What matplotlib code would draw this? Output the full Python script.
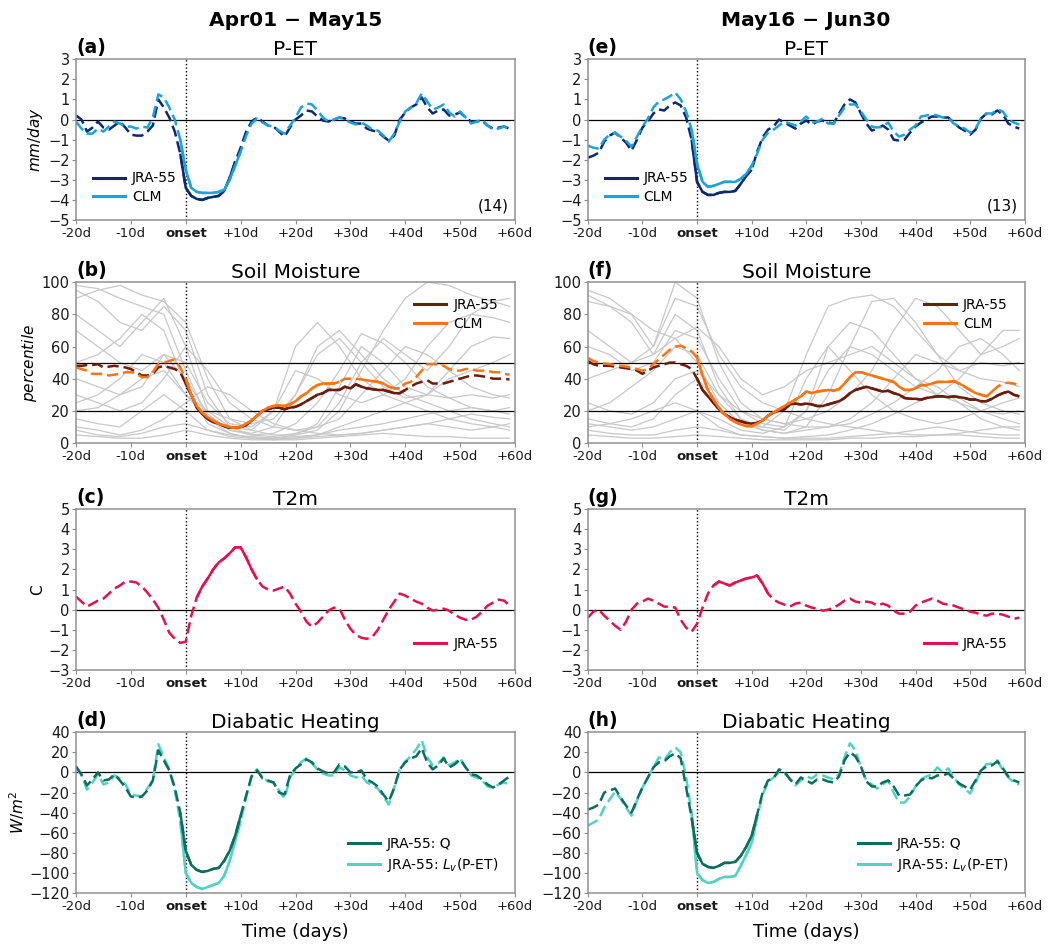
import matplotlib
matplotlib.use("Agg")
import matplotlib.pyplot as plt
from matplotlib.lines import Line2D

# ---------------- data ----------------
days = list(range(-20, 60))
xtick_pos = [-20, -10, 0, 10, 20, 30, 40, 50, 60]
xtick_lab = ["-20d", "-10d", "onset", "+10d", "+20d", "+30d", "+40d", "+50d", "+60d"]

# P-ET (mm/day), Apr01-May15
pet_jra_a = [0.2, 0.0, -0.6, -0.4, -0.1, -0.4, -0.5, -0.3, -0.1, -0.4,
             -0.75, -0.8, -0.8, -0.6, -0.3, 1.0, 0.6, 0.1, -0.6, -1.7,
             -3.4, -3.8, -3.95, -4.0, -3.9, -3.85, -3.8, -3.55, -2.9, -2.1,
             -1.4, -0.6, -0.1, 0.1, -0.1, -0.3, -0.35, -0.6, -0.85, -0.4,
             0.0, 0.2, 0.45, 0.4, 0.15, -0.05, -0.1, 0.0, 0.1, 0.05,
             -0.1, -0.2, -0.2, -0.45, -0.55, -0.6, -0.85, -1.05, -0.8, 0.0,
             0.35, 0.6, 0.75, 1.1, 0.6, 0.3, 0.45, 0.5, 0.2, 0.25,
             0.35, 0.1, -0.1, -0.1, -0.05, -0.3, -0.45, -0.4, -0.35, -0.45]
pet_clm_a = [-0.1, -0.45, -0.7, -0.7, -0.45, -0.6, -0.35, -0.1, -0.2, -0.35,
             -0.35, -0.45, -0.35, -0.4, 0.1, 1.25, 1.1, 0.6, 0.0, -1.0,
             -2.5, -3.4, -3.6, -3.65, -3.65, -3.65, -3.6, -3.5, -3.0, -2.3,
             -1.6, -0.8, -0.2, 0.05, -0.15, -0.3, -0.35, -0.55, -0.7, -0.3,
             0.1, 0.6, 0.8, 0.75, 0.45, 0.1, -0.1, 0.0, 0.1, 0.0,
             -0.15, -0.25, -0.15, -0.3, -0.5, -0.55, -0.8, -1.1, -0.7, -0.1,
             0.4, 0.6, 0.8, 1.3, 0.9, 0.5, 0.6, 0.75, 0.35, 0.15,
             0.4, 0.1, -0.2, -0.1, 0.0, -0.3, -0.5, -0.45, -0.35, -0.45]
# P-ET (mm/day), May16-Jun30
pet_jra_e = [-1.9, -1.8, -1.65, -1.1, -0.8, -0.65, -0.9, -1.15, -1.55, -1.0,
             -0.4, -0.1, 0.3, 0.5, 0.45, 0.7, 0.85, 0.7, 0.1, -1.0,
             -3.1, -3.6, -3.75, -3.75, -3.65, -3.6, -3.6, -3.55, -3.2, -2.8,
             -2.5, -1.6, -0.9, -0.5, -0.35, 0.0, -0.15, -0.3, -0.45, -0.2,
             -0.05, -0.25, -0.1, -0.05, -0.15, -0.2, 0.3, 0.75, 1.0, 0.85,
             0.3, -0.2, -0.55, -0.45, -0.3, -0.5, -1.0, -1.05, -1.0, -0.65,
             -0.35, -0.15, 0.0, 0.15, 0.15, 0.1, 0.1, -0.15, -0.4, -0.55,
             -0.75, -0.5, 0.05, 0.3, 0.25, 0.45, 0.25, -0.2, -0.35, -0.45]
pet_clm_e = [-1.3, -1.4, -1.45, -1.0, -0.75, -0.65, -0.85, -1.05, -1.35, -0.85,
             -0.35, 0.05, 0.6, 0.9, 1.0, 1.15, 1.35, 1.0, 0.4, -0.5,
             -2.2, -3.1, -3.35, -3.3, -3.2, -3.1, -3.1, -3.1, -2.95, -2.7,
             -2.3, -1.7, -1.0, -0.65, -0.5, -0.3, -0.1, -0.2, -0.3, -0.1,
             0.15, -0.15, -0.1, 0.05, -0.2, -0.2, 0.2, 0.6, 0.75, 0.75,
             0.4, 0.0, -0.35, -0.4, -0.35, -0.15, -0.6, -0.85, -0.75, -0.5,
             -0.3, 0.15, 0.2, 0.25, 0.2, 0.1, 0.1, -0.2, -0.35, -0.45,
             -0.65, -0.45, 0.05, 0.3, 0.3, 0.5, 0.4, 0.0, -0.15, -0.25]

# Soil moisture (percentile)
sm_jra_b = [48, 48, 48.5, 48.5, 49, 47, 47.5, 48, 47.5, 47,
            46, 44, 42, 42, 43, 47, 48, 47, 46, 44,
            37, 30, 22, 18, 15, 13, 12, 10.5, 9.5, 9.5,
            10, 11, 14, 17, 20, 21, 22, 22, 21, 22,
            22.5, 24, 26, 28, 30, 31, 33, 33, 33, 35,
            34, 36.5, 35, 34, 33.5, 33, 33, 32, 31, 31,
            33, 35, 37, 38, 39, 37, 37, 37, 38, 39,
            40, 41, 42, 42, 41.5, 41, 40, 40, 40, 39.5]
sm_clm_b = [47, 46, 45, 43, 43, 43, 42, 42.5, 43, 44,
            44, 43, 41, 41, 44, 49, 50, 51, 52, 47,
            40, 30, 23, 19, 16, 14, 12, 11, 10, 9.5,
            10, 12, 14, 17, 20, 22, 23, 23.5, 23, 24,
            26, 29, 31, 34, 36, 37, 37, 37, 38, 40,
            40, 40, 39.5, 39, 38.5, 38, 37, 35, 34, 34,
            37, 38, 41, 45, 49, 49, 49, 48, 46, 45,
            45, 46, 46, 45, 45, 45, 44, 44, 43, 42.5]
sm_jra_f = [51, 49, 48, 48, 48, 47.5, 47, 46.5, 46, 45,
            43, 45, 47, 48, 49, 50, 50, 49, 48, 46,
            40, 33, 29, 25, 21, 18, 16, 14.5, 13.5, 12.5,
            12, 12.5, 14, 17, 19, 20, 21, 24, 24.5, 24,
            24.5, 24, 23, 23, 24, 25, 26, 28, 31, 33,
            34, 35, 34, 33, 32, 32.5, 31, 30, 28, 27.5,
            27.5, 27, 28, 28.5, 29, 29, 28.5, 29, 28.5, 28,
            27, 27, 26, 26, 27.5, 29.5, 31, 32, 30, 29]
sm_clm_f = [53, 51, 50, 49.5, 49, 48.5, 48, 47.5, 47, 46,
            45, 46, 49, 52, 55, 58, 60, 60.5, 59, 57,
            53, 42, 33, 27, 22, 18, 15, 13, 11.5, 10.5,
            10.5, 12, 14, 17, 19, 21, 23, 25, 27, 29,
            32, 31, 32, 32.5, 33, 32.5, 33.5, 37, 41, 44,
            44, 43, 42, 41, 40, 39, 38, 35, 33, 33,
            34, 36, 36, 37, 38, 38, 38, 38.5, 37, 35,
            33, 31, 30, 29, 32, 35, 37, 37.5, 37, 36]

# individual events (soil moisture percentile), sampled every 4 days
member_days = [-20, -16, -12, -8, -4, 0, 4, 8, 12, 16, 20, 24, 28, 32, 36, 40, 44, 48, 52, 56, 59]
sm_members_b = [
    [98, 96, 90, 85, 80, 45, 15, 8, 6, 10, 30, 60, 70, 55, 40, 30, 25, 20, 15, 12, 10],
    [95, 88, 75, 70, 85, 70, 30, 10, 5, 6, 12, 25, 45, 68, 62, 50, 35, 28, 22, 20, 18],
    [90, 95, 98, 92, 88, 75, 40, 15, 8, 5, 5, 8, 20, 45, 70, 90, 100, 98, 92, 88, 85],
    [80, 70, 60, 75, 90, 60, 20, 10, 8, 20, 60, 75, 60, 40, 30, 25, 20, 15, 12, 10, 8],
    [70, 60, 50, 45, 55, 40, 18, 8, 5, 4, 6, 10, 25, 50, 65, 55, 45, 60, 80, 88, 90],
    [50, 55, 65, 80, 70, 35, 12, 6, 3, 3, 5, 12, 35, 60, 50, 35, 30, 28, 30, 28, 30],
    [40, 35, 30, 35, 55, 50, 25, 12, 10, 20, 45, 40, 30, 25, 30, 40, 60, 75, 80, 78, 75],
    [30, 25, 20, 25, 40, 60, 45, 25, 15, 10, 8, 10, 15, 30, 45, 60, 55, 45, 35, 30, 28],
    [20, 22, 30, 40, 45, 30, 15, 6, 3, 2, 3, 5, 10, 15, 20, 25, 30, 45, 60, 66, 65],
    [15, 12, 10, 20, 30, 20, 8, 4, 3, 3, 4, 5, 8, 10, 12, 15, 18, 20, 22, 20, 22],
    [10, 8, 5, 8, 15, 25, 35, 30, 20, 12, 8, 6, 5, 6, 8, 10, 12, 15, 18, 16, 15],
    [8, 5, 4, 6, 10, 12, 8, 5, 4, 3, 3, 4, 5, 6, 8, 10, 12, 10, 8, 10, 12],
    [5, 4, 3, 3, 5, 8, 5, 3, 2, 2, 2, 3, 4, 5, 6, 5, 4, 4, 3, 3, 3],
    [25, 30, 40, 55, 50, 30, 20, 15, 12, 15, 30, 55, 65, 50, 35, 28, 30, 40, 45, 50, 55],
]
sm_members_f = [
    [95, 90, 80, 70, 65, 50, 25, 12, 10, 20, 55, 85, 90, 92, 85, 70, 55, 45, 40, 38, 35],
    [92, 85, 80, 60, 90, 85, 55, 35, 25, 20, 15, 12, 10, 8, 6, 5, 5, 6, 8, 10, 10],
    [88, 85, 75, 55, 80, 70, 35, 15, 8, 6, 10, 30, 60, 88, 90, 75, 55, 35, 25, 20, 18],
    [70, 60, 50, 60, 100, 90, 50, 25, 15, 12, 15, 20, 30, 45, 70, 90, 85, 70, 55, 60, 65],
    [60, 55, 45, 50, 70, 65, 40, 20, 12, 10, 20, 45, 60, 55, 45, 35, 30, 40, 55, 70, 70],
    [20, 25, 35, 45, 60, 55, 30, 15, 10, 8, 20, 60, 75, 70, 55, 40, 30, 25, 20, 18, 20],
    [15, 12, 10, 15, 30, 40, 25, 12, 8, 6, 8, 10, 15, 25, 40, 55, 50, 45, 50, 48, 50],
    [12, 10, 8, 10, 15, 20, 15, 8, 6, 10, 40, 60, 45, 30, 20, 15, 12, 15, 20, 25, 28],
    [10, 12, 15, 20, 25, 20, 10, 5, 4, 3, 4, 5, 8, 12, 18, 25, 30, 28, 20, 15, 12],
    [8, 6, 5, 5, 8, 10, 8, 5, 4, 3, 3, 3, 4, 5, 6, 8, 10, 8, 6, 5, 5],
    [5, 4, 3, 3, 4, 5, 4, 3, 2, 2, 2, 2, 3, 3, 4, 4, 5, 5, 4, 3, 3],
    [40, 45, 50, 55, 65, 72, 60, 40, 30, 35, 45, 50, 55, 60, 50, 40, 35, 25, 15, 10, 8],
    [25, 20, 18, 25, 40, 45, 30, 20, 15, 12, 10, 10, 12, 18, 25, 35, 45, 60, 65, 55, 45],
]

# T2m anomaly (C)
t2m_c = [0.65, 0.4, 0.15, 0.3, 0.45, 0.55, 0.8, 1.05, 1.2, 1.4,
         1.4, 1.35, 1.15, 0.85, 0.5, 0.1, -0.5, -1.15, -1.45, -1.65,
         -1.6, -0.3, 0.6, 1.15, 1.55, 2.0, 2.35, 2.55, 2.8, 3.1,
         3.1, 2.6, 2.0, 1.5, 1.15, 1.0, 0.95, 1.05, 1.15, 0.8,
         0.3, -0.1, -0.6, -0.85, -0.65, -0.35, -0.05, 0.1, 0.05, -0.5,
         -0.95, -1.25, -1.4, -1.45, -1.35, -1.0, -0.5, 0.0, 0.4, 0.8,
         0.7, 0.55, 0.4, 0.3, 0.1, -0.05, 0.0, 0.05, -0.05, -0.25,
         -0.4, -0.5, -0.5, -0.35, -0.1, 0.2, 0.35, 0.5, 0.45, 0.2]
t2m_g = [-0.4, -0.1, 0.0, -0.3, -0.55, -0.8, -1.0, -0.6, 0.0, 0.3,
         0.4, 0.55, 0.45, 0.3, 0.15, 0.15, 0.1, -0.5, -0.9, -1.1,
         -0.7, 0.1, 0.8, 1.2, 1.4, 1.3, 1.2, 1.35, 1.45, 1.55,
         1.6, 1.7, 1.3, 0.8, 0.5, 0.35, 0.25, 0.15, 0.3, 0.35,
         0.2, 0.1, 0.05, -0.05, 0.0, 0.1, 0.25, 0.45, 0.55, 0.4,
         0.35, 0.4, 0.35, 0.2, 0.3, 0.2, -0.05, -0.2, -0.2, -0.1,
         0.2, 0.35, 0.45, 0.55, 0.45, 0.3, 0.25, 0.2, 0.1, 0.0,
         -0.1, -0.15, -0.25, -0.3, -0.2, -0.2, -0.25, -0.35, -0.45, -0.4]

# Diabatic heating (W/m2)
q_d = [6, -2, -13, -7, 0, -8, -7, -2, -8, -15,
       -24, -25, -24, -18, -8, 22, 12, 2, -15, -40,
       -78, -92, -97, -99, -98, -96, -95, -88, -78, -63,
       -43, -23, -4, 2, -6, -8, -10, -20, -22, -3,
       4, 8, 13, 10, 4, 1, -1, 0, 8, 6,
       0, 0, 2, -7, -10, -14, -22, -29, -15, 3,
       10, 14, 16, 24, 10, 3, 7, 14, 5, 8,
       13, 5, -2, -3, -7, -12, -15, -12, -8, -4]
lv_d = [5, -3, -17, -10, -2, -12, -10, -3, -6, -12,
        -22, -23, -24, -16, -8, 28, 15, 3, -18, -48,
        -100, -110, -114, -116, -114, -112, -110, -103, -88, -68,
        -48, -25, -3, 3, -5, -9, -10, -18, -26, -5,
        3, 10, 14, 9, 3, -1, -3, -3, 5, 2,
        -3, -5, -3, -10, -13, -16, -24, -32, -15, 3,
        11, 16, 23, 32, 15, 7, 9, 15, 7, 10,
        14, 5, -3, -5, -8, -14, -15, -12, -10, -12]
q_h = [-37, -35, -32, -20, -18, -16, -25, -33, -40, -27,
       -15, -5, 5, 10, 11, 16, 19, 14, -15, -45,
       -80, -91, -94, -95, -93, -90, -90, -89, -83, -74,
       -63, -42, -20, -8, -6, 3, 1, -7, -12, -5,
       -8, -11, -7, -7, -9, -10, -4, 12, 20, 16,
       6, -9, -14, -14, -10, -8, -14, -23, -23, -22,
       -14, -8, -5, -6, -3, -3, -1, -6, -11, -14,
       -17, -8, 2, 6, 7, 11, 4, -4, -8, -10]
lv_h = [-53, -50, -47, -35, -27, -19, -26, -35, -43, -28,
        -15, -5, 5, 15, 12, 20, 25, 20, -5, -40,
        -100, -107, -110, -109, -106, -104, -104, -103, -93, -82,
        -70, -45, -22, -10, -5, 0, -1, -6, -13, -8,
        -4, -6, -2, -3, -5, -7, -2, 15, 29, 22,
        5, -8, -12, -16, -12, -8, -20, -30, -30, -24,
        -14, -7, -4, -2, 5, 0, 4, -5, -12, -16,
        -21, -10, 2, 8, 9, 12, 2, -5, -10, -12]

# day spans where the composite is significant (drawn solid)
sig_pet_jra_a = [(-1, 9)]
sig_pet_clm_a = [(-1, 10)]
sig_pet_jra_e = [(-1, 10)]
sig_pet_clm_e = [(-1, 10)]
sig_sm_jra_b = [(0, 40)]
sig_sm_clm_b = [(0, 28), (33, 39)]
sig_sm_jra_f = [(0, 59)]
sig_sm_clm_f = [(0, 54)]
sig_t2m_c = [(2, 13)]
sig_t2m_g = [(3, 13)]
sig_q_d = [(-1, 10)]
sig_lv_d = [(-1, 10)]
sig_q_h = [(-1, 11)]
sig_lv_h = [(-1, 11)]

# ---------------- styling ----------------
C_PET_JRA = "#0b2a6f"
C_PET_CLM = "#1ba3dc"
C_SM_JRA = "#6e1c0c"
C_SM_CLM = "#ff7410"
C_T2M = "#e3114f"
C_Q = "#0c6e5c"
C_LV = "#4fd3c2"
SPINE = "#8f8f8f"
LW = 1.8

fig = plt.figure(figsize=(10.63, 9.46), dpi=100)

col_x = [0.0715, 0.553]
col_w = [0.413, 0.411]
row_y = [0.7674, 0.5317, 0.2918, 0.056]
row_h = 0.170


def series(ax, vals, color, spans, label):
    ax.plot(days, vals, color=color, lw=LW, ls="--", dashes=(4.5, 2))
    for s, e in spans:
        i0, i1 = s - days[0], e - days[0] + 1
        ax.plot(days[i0:i1], vals[i0:i1], color=color, lw=LW, ls="-",
                solid_capstyle="butt")
    return Line2D([], [], color=color, lw=2.2, label=label)


def frame(ax, letter, title, ylim, yticks, ylabel=None, hlines=(0,)):
    ax.set_xlim(-20, 60)
    ax.set_ylim(*ylim)
    ax.set_xticks(xtick_pos)
    labs = ax.set_xticklabels(xtick_lab, fontsize=9.5)
    labs[2].set_fontweight("bold")
    ax.set_yticks(yticks)
    ax.tick_params(axis="both", colors=SPINE, labelcolor="#1a1a1a",
                   length=3, width=0.8, labelsize=10.5, pad=1.5)
    ax.tick_params(axis="x", labelsize=9.5, pad=2)
    for sp in ax.spines.values():
        sp.set_color(SPINE)
        sp.set_linewidth(1.1)
    for h in hlines:
        ax.axhline(h, color="black", lw=0.9, zorder=1)
    ax.axvline(0, color="black", lw=1.0, ls=(0, (1, 1.6)), zorder=1)
    ax.set_title(title, fontsize=14.5, pad=3)
    ax.text(0.0, 1.015, letter, transform=ax.transAxes, fontsize=13.5,
            fontweight="bold", ha="left", va="bottom")
    if ylabel is not None:
        ax.set_ylabel(ylabel, fontsize=11, labelpad=2)


axes = {}
for c in range(2):
    for r in range(4):
        axes[(r, c)] = fig.add_axes([col_x[c], row_y[r], col_w[c], row_h])

leg_kw = dict(frameon=False, fontsize=10, handlelength=2.3, handletextpad=0.5,
              labelspacing=0.35)

# P-ET
for c, (jra, clm, sj, sc, letter, n) in enumerate([
        (pet_jra_a, pet_clm_a, sig_pet_jra_a, sig_pet_clm_a, "(a)", "(14)"),
        (pet_jra_e, pet_clm_e, sig_pet_jra_e, sig_pet_clm_e, "(e)", "(13)")]):
    ax = axes[(0, c)]
    frame(ax, letter, "P-ET", (-5, 3), range(-5, 4),
          r"$mm/day$" if c == 0 else None)
    h1 = series(ax, jra, C_PET_JRA, sj, "JRA-55")
    h2 = series(ax, clm, C_PET_CLM, sc, "CLM")
    ax.legend(handles=[h1, h2], loc="lower left", bbox_to_anchor=(0.01, 0.02), **leg_kw)
    ax.text(0.985, 0.04, n, transform=ax.transAxes, ha="right", va="bottom",
            fontsize=11)

# Soil moisture
for c, (jra, clm, sj, sc, members, letter) in enumerate([
        (sm_jra_b, sm_clm_b, sig_sm_jra_b, sig_sm_clm_b, sm_members_b, "(b)"),
        (sm_jra_f, sm_clm_f, sig_sm_jra_f, sig_sm_clm_f, sm_members_f, "(f)")]):
    ax = axes[(1, c)]
    frame(ax, letter, "Soil Moisture", (0, 100), range(0, 101, 20),
          r"$percentile$" if c == 0 else None, hlines=(50, 20))
    for m in members:
        ax.plot(member_days, m, color="#c8c8c8", lw=0.9, zorder=0.5)
    h1 = series(ax, jra, C_SM_JRA, sj, "JRA-55")
    h2 = series(ax, clm, C_SM_CLM, sc, "CLM")
    ax.legend(handles=[h1, h2], loc="upper right", bbox_to_anchor=(0.99, 0.98), **leg_kw)

# T2m
for c, (vals, sig, letter) in enumerate([(t2m_c, sig_t2m_c, "(c)"),
                                         (t2m_g, sig_t2m_g, "(g)")]):
    ax = axes[(2, c)]
    frame(ax, letter, "T2m", (-3, 5), range(-3, 6), "C" if c == 0 else None)
    h1 = series(ax, vals, C_T2M, sig, "JRA-55")
    ax.legend(handles=[h1], loc="lower right", bbox_to_anchor=(0.99, 0.04), **leg_kw)

# Diabatic heating
for c, (q, lv, sq, sl, letter) in enumerate([
        (q_d, lv_d, sig_q_d, sig_lv_d, "(d)"),
        (q_h, lv_h, sig_q_h, sig_lv_h, "(h)")]):
    ax = axes[(3, c)]
    frame(ax, letter, "Diabatic Heating", (-120, 40), range(-120, 41, 20),
          r"$W/m^2$" if c == 0 else None)
    h2 = series(ax, lv, C_LV, sl, r"JRA-55: $L_v$(P-ET)")
    h1 = series(ax, q, C_Q, sq, "JRA-55: Q")
    ax.legend(handles=[h1, h2], loc="lower right", bbox_to_anchor=(0.99, 0.04), **leg_kw)
    ax.set_xlabel("Time (days)", fontsize=13, labelpad=7)

fig.text(0.278, 0.978, "Apr01 \u2212 May15", ha="center", va="center",
         fontsize=14.5, fontweight="bold")
fig.text(0.758, 0.978, "May16 \u2212 Jun30", ha="center", va="center",
         fontsize=14.5, fontweight="bold")

fig.savefig("out.png", dpi=100)
